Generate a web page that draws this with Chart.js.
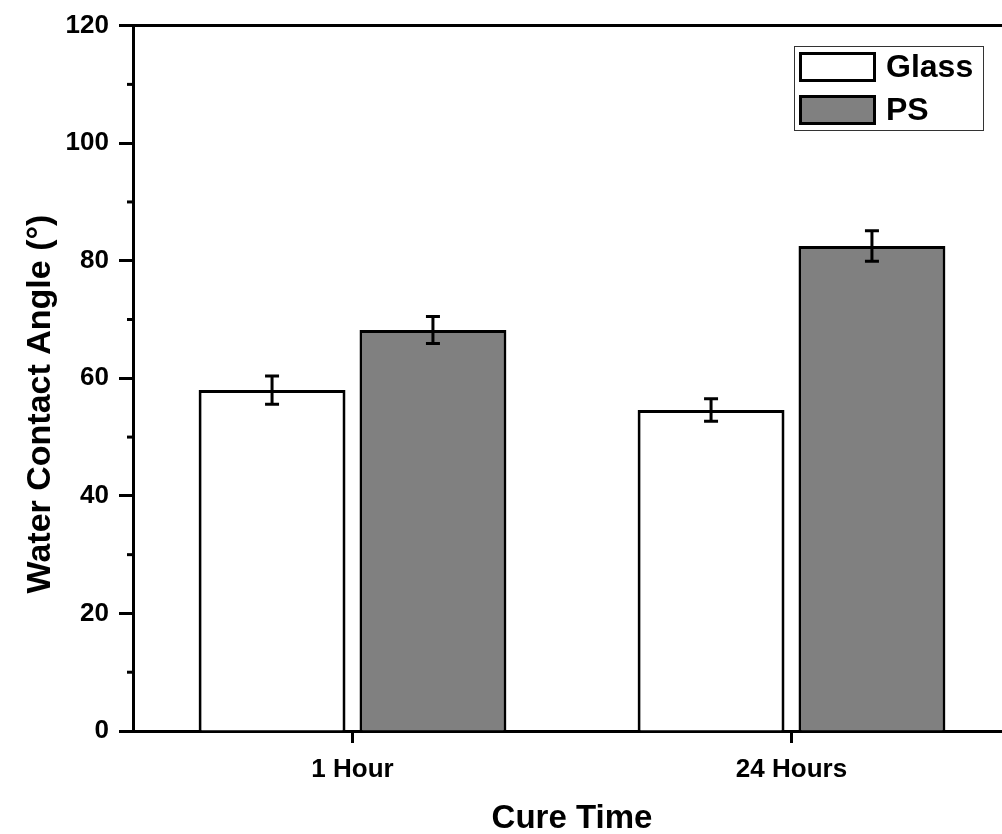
<!DOCTYPE html>
<html>
<head>
<meta charset="utf-8">
<script src="https://cdn.jsdelivr.net/npm/chart.js"></script>
<style>
  html, body { margin: 0; padding: 0; background: #fff; overflow: hidden; }
  #wrap { width: 1012px; height: 834px; }
</style>
</head>
<body>
<div id="wrap"><canvas id="chart"></canvas></div>
<script>
// data
const categories = ["1 Hour", "24 Hours"];
const glassValues = [58.0, 54.6];
const glassErrors = [2.4, 1.9];
const psValues = [68.2, 82.5];
const psErrors = [2.3, 2.6];
const yTicks = [0, 20, 40, 60, 80, 100, 120];
const yTitle = "Water Contact Angle (°)";

const FONT = "'Liberation Sans', Arial, sans-serif";

// error bars drawn from the bar elements and y scale
const errorBars = {
  id: "errorBars",
  afterDatasetsDraw(chart) {
    const ctx = chart.ctx;
    const y = chart.scales.y;
    ctx.save();
    ctx.strokeStyle = "#000";
    ctx.lineWidth = 3;
    chart.data.datasets.forEach((ds, i) => {
      const meta = chart.getDatasetMeta(i);
      meta.data.forEach((bar, j) => {
        const v = ds.data[j], e = ds.errors[j];
        const top = y.getPixelForValue(v + e);
        const bot = y.getPixelForValue(v - e);
        ctx.beginPath();
        ctx.moveTo(bar.x, top); ctx.lineTo(bar.x, bot);
        ctx.moveTo(bar.x - 7, top); ctx.lineTo(bar.x + 7, top);
        ctx.moveTo(bar.x - 7, bot); ctx.lineTo(bar.x + 7, bot);
        ctx.stroke();
      });
    });
    ctx.restore();
  }
};

// minor ticks, top frame line, y title and the boxed legend
const frameAndLegend = {
  id: "frameAndLegend",
  afterDraw(chart) {
    const ctx = chart.ctx;
    const area = chart.chartArea;
    const y = chart.scales.y;
    ctx.save();
    ctx.strokeStyle = "#000";
    ctx.lineWidth = 3;
    // top line
    ctx.beginPath();
    ctx.moveTo(area.left - 1.5, area.top);
    ctx.lineTo(area.right + 2, area.top);
    ctx.stroke();
    // minor ticks
    for (let v = 10; v < 120; v += 20) {
      const py = y.getPixelForValue(v);
      ctx.beginPath();
      ctx.moveTo(area.left, py);
      ctx.lineTo(area.left - 6, py);
      ctx.stroke();
    }
    // y title (sits a bit below the middle in the original)
    ctx.save();
    ctx.translate(50, 404);
    ctx.rotate(-Math.PI / 2);
    ctx.font = "bold 34px " + FONT;
    ctx.textAlign = "center";
    ctx.textBaseline = "alphabetic";
    ctx.fillStyle = "#000";
    ctx.fillText(yTitle, 0, 0);
    ctx.restore();
    // legend
    ctx.lineWidth = 1;
    ctx.strokeStyle = "#333";
    ctx.strokeRect(794.5, 46.5, 189, 84);
    ctx.font = "bold 32px " + FONT;
    ctx.textBaseline = "middle";
    chart.data.datasets.forEach((ds, i) => {
      const top = 52 + i * 43;
      ctx.fillStyle = ds.backgroundColor;
      ctx.fillRect(799, top, 77, 30);
      ctx.lineWidth = 3;
      ctx.strokeStyle = "#000";
      ctx.strokeRect(800.5, top + 1.5, 74, 27);
      ctx.fillStyle = "#000";
      ctx.fillText(ds.label, 886, top + 16);
    });
    ctx.restore();
  }
};

new Chart(document.getElementById("chart"), {
  type: "bar",
  data: {
    labels: categories,
    datasets: [
      {
        label: "Glass",
        data: glassValues,
        errors: glassErrors,
        backgroundColor: "#ffffff",
        borderColor: "#000000",
        borderWidth: 3
      },
      {
        label: "PS",
        data: psValues,
        errors: psErrors,
        backgroundColor: "#808080",
        borderColor: "#000000",
        borderWidth: 3
      }
    ]
  },
  options: {
    responsive: true,
    maintainAspectRatio: false,
    animation: false,
    layout: { padding: { top: 23, right: 1, left: 0, bottom: 0 } },
    datasets: { bar: { categoryPercentage: 0.733, barPercentage: 0.913 } },
    plugins: { legend: { display: false }, tooltip: { enabled: false } },
    scales: {
      x: {
        offset: true,
        grid: { offset: false, drawOnChartArea: false, tickLength: 12, tickWidth: 3, tickColor: "#000" },
        border: { display: true, color: "#000", width: 3 },
        ticks: { color: "#000", font: { family: FONT, size: 26, weight: "bold" }, padding: 11 },
        title: { display: true, text: "Cure Time", color: "#000", font: { family: FONT, size: 33, weight: "bold", lineHeight: 0.9 }, padding: { top: 0, bottom: 0 } },
        afterFit(scale) { scale.height = 103; }
      },
      y: {
        min: 0,
        max: 120,
        afterBuildTicks(scale) { scale.ticks = yTicks.map(v => ({ value: v })); },
        grid: { drawOnChartArea: false, tickLength: 14, tickWidth: 3, tickColor: "#000" },
        border: { display: true, color: "#000", width: 3 },
        ticks: { color: "#000", font: { family: FONT, size: 26, weight: "bold" }, padding: 10 },
        afterFit(scale) { scale.width = 133; }
      }
    }
  },
  plugins: [errorBars, frameAndLegend]
});
</script>
</body>
</html>
